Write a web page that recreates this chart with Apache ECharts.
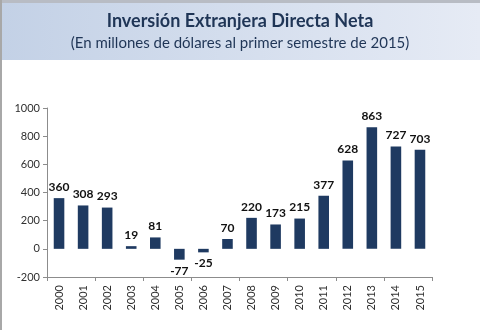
<!DOCTYPE html>
<html><head><meta charset="utf-8">
<script src="https://cdn.jsdelivr.net/npm/echarts@6/dist/echarts.min.js"></script>
<style>html,body{margin:0;padding:0;background:#fff}#c{width:480px;height:330px}</style>
</head><body><div id="c"></div>
<script>
const categories = ['2000','2001','2002','2003','2004','2005','2006','2007','2008','2009','2010','2011','2012','2013','2014','2015'];
const values = [360,308,293,19,81,-77,-25,70,220,173,215,377,628,863,727,703];
const yTicks = [-200,0,200,400,600,800,1000];
const titleText = 'Inversión Extranjera Directa Neta';
const subtitleText = '(En millones de dólares al primer semestre de 2015)';

const chart = echarts.init(document.getElementById('c'), null, {renderer:'canvas'});
const font = 'Lato, "Open Sans", sans-serif';
chart.setOption({
  animation:false,
  backgroundColor:'#ffffff',
  graphic:[
    {type:'rect', shape:{x:0,y:0,width:480,height:60}, z:-1,
     style:{fill:new echarts.graphic.LinearGradient(0,0,1,0,[{offset:0,color:'#c3d1e6'},{offset:1,color:'#e6ebf5'}])}},
    {type:'rect', shape:{x:0,y:0,width:480,height:3}, style:{fill:'#b8bcc4'}},
    {type:'rect', shape:{x:0,y:0,width:2,height:330}, style:{fill:'#a8a8a8'}},
    {type:'text', left:'center', top:12, style:{text:titleText, font:'bold 18px '+font, fill:'#1f3556'}},
    {type:'text', left:'center', top:36, style:{text:subtitleText, font:'15px '+font, fill:'#1f3556'}}
  ],
  grid:{left:47, right:48, top:108, bottom:53},
  xAxis:[
    {type:'category', data:categories, position:'bottom',
     axisLine:{show:false}, axisTick:{show:false},
     axisLabel:{rotate:90, color:'#303030', fontFamily:font, fontSize:11, margin:8}},
    {type:'category', data:categories, position:'bottom',
     axisLine:{onZero:true, lineStyle:{color:'#8c8c8c'}},
     axisTick:{show:true, length:4, lineStyle:{color:'#8c8c8c'}},
     axisLabel:{show:false}}
  ],
  yAxis:{type:'value', min:-200, max:1000, interval:200,
    axisLine:{show:true, lineStyle:{color:'#8c8c8c'}},
    axisTick:{show:true, length:4, lineStyle:{color:'#8c8c8c'}},
    splitLine:{show:false},
    axisLabel:{color:'#303030', fontFamily:font, fontSize:11, margin:7,
      formatter:v=> yTicks.includes(v) ? String(v) : ''}},
  series:[{type:'bar', xAxisIndex:0, barWidth:'44%',
    itemStyle:{color:'#1f3a61'},
    label:{show:true, position:'top', distance:5, fontFamily:font, fontWeight:'bold', fontSize:12, color:'#111'},
    data: values.map(v => v < 0 ? {value:v, label:{position:'bottom'}} : v)
  }]
});
</script></body></html>
